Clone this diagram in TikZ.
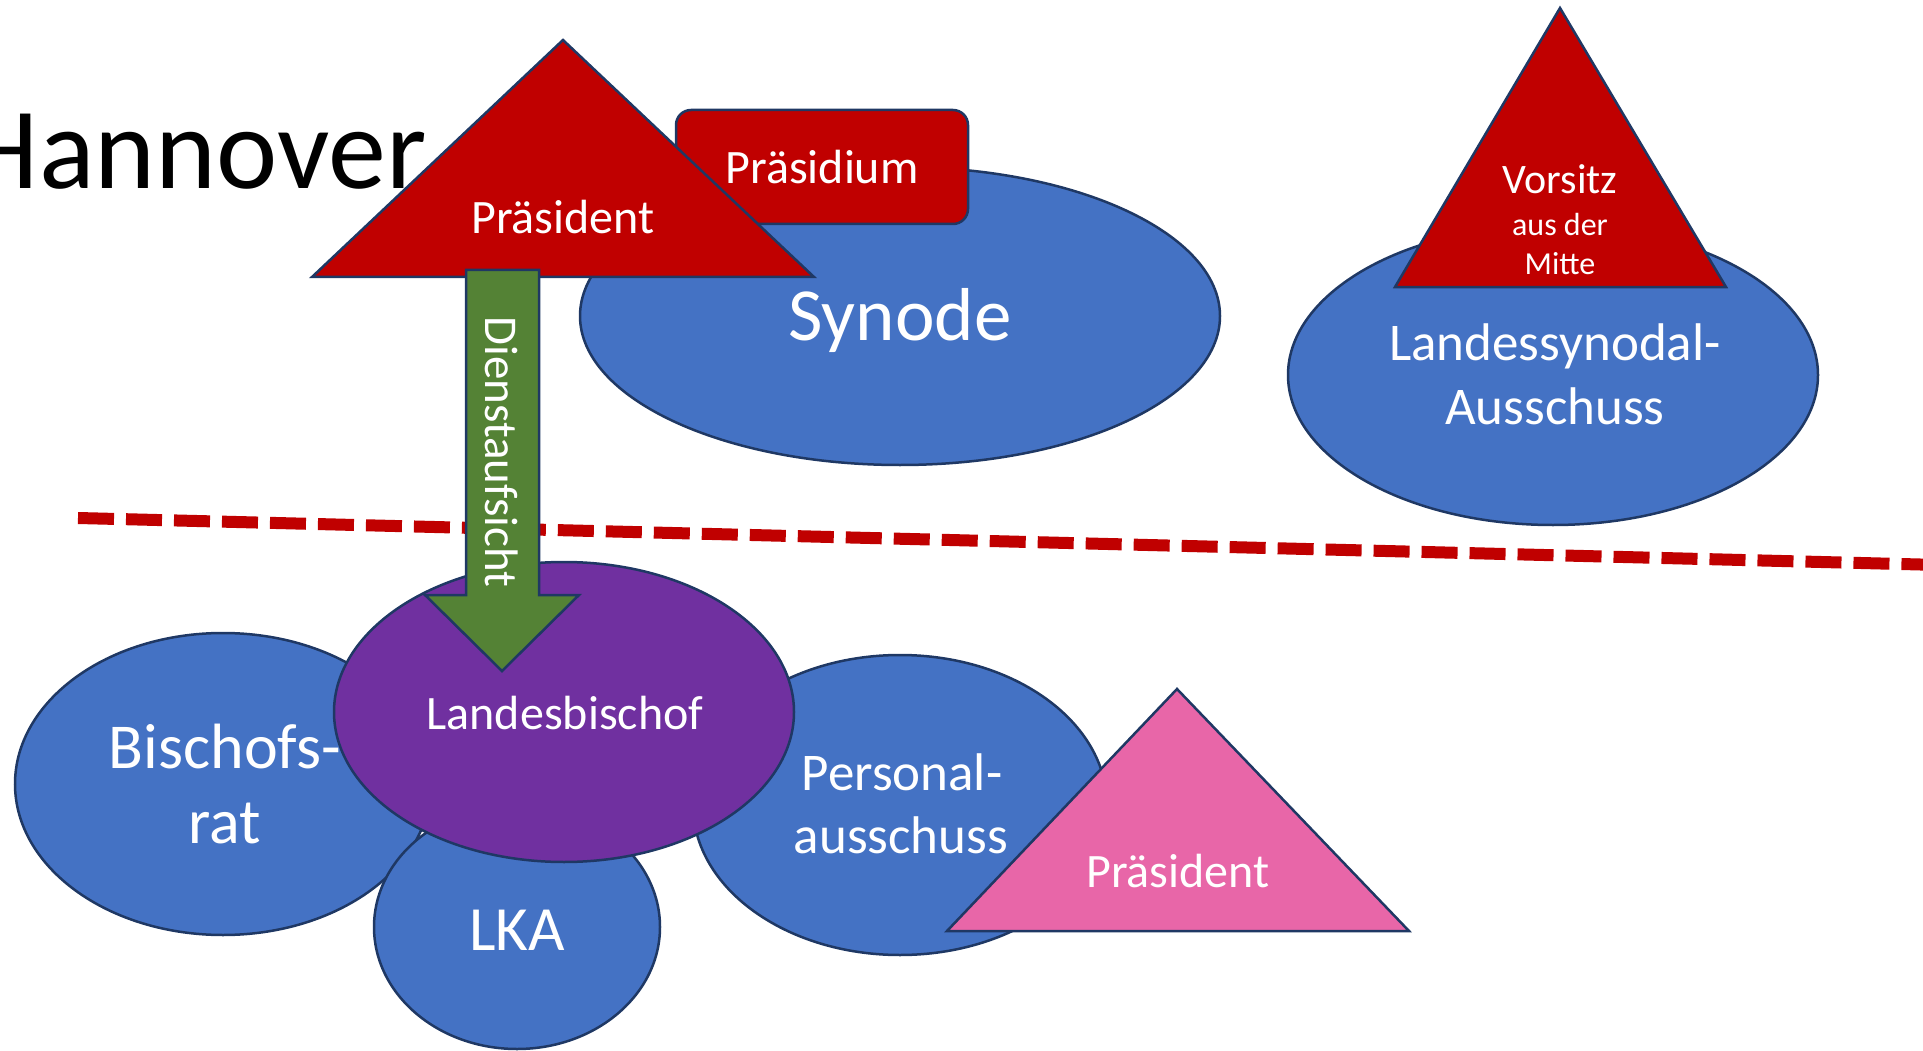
\documentclass[tikz,border=0pt]{standalone}
\usepackage{fontspec}
\setmainfont{Carlito}
\definecolor{bodyblue}{HTML}{4472C4}
\definecolor{chairred}{HTML}{C00000}
\definecolor{bishoppurple}{HTML}{7030A0}
\definecolor{supervgreen}{HTML}{548235}
\definecolor{presipink}{HTML}{E866A8}
\definecolor{edgenavy}{HTML}{1F3864}
\newcommand{\setfs}[1]{\fontsize{#1}{#1}\selectfont}
\tikzset{
  shapeline/.style={draw=edgenavy, line width=2.5pt, line join=miter},
  bluebody/.style={shapeline, fill=bodyblue},
  redbody/.style={shapeline, fill=chairred},
  lbl/.style={text=white, inner sep=0pt, anchor=base},
  borderdash/.style={draw=chairred, line width=12pt, dash pattern=on 36pt off 12pt}
}
\begin{document}
\begin{tikzpicture}[x=1pt,y=-1pt]
\useasboundingbox (0,0) rectangle (1923,1051);

% title
\node[inner sep=0pt, anchor=base east, font=\setfs{116}] (title) at (427,189) {Hannover};

% upper part: synod bodies
\path[bluebody] (900,316) ellipse [x radius=320, y radius=149];
\path[redbody, rounded corners=15pt] (676,110) rectangle (968,224);
\path[redbody] (312,277) -- (563,40) -- (814,277) -- cycle;
\path[bluebody] (1553,375) ellipse [x radius=265, y radius=150];
\path[redbody] (1395,287) -- (1560,8) -- (1726,287) -- cycle;

\node[lbl, font=\setfs{75}] (synode) at (900,340) {Synode};
\node[lbl, font=\setfs{48}] (praesidium) at (822,184) {Präsidium};
\node[lbl, font=\setfs{48}] (praesA) at (563,234) {Präsident};
\node[lbl, font=\setfs{53}] (lsaA) at (1555,360) {Landessynodal-};
\node[lbl, font=\setfs{53}] (lsaB) at (1555,424) {Ausschuss};
\node[lbl, font=\setfs{42}] (vorsA) at (1560,194) {Vorsitz};
\node[lbl, font=\setfs{32}] (vorsB) at (1560,236) {aus der};
\node[lbl, font=\setfs{32}] (vorsC) at (1560,274) {Mitte};

% separating line
\coordinate (sepL) at (78,518);
\coordinate (sepR) at (1960,565.5);
\draw[borderdash] (sepL) -- (sepR);

% lower part: church administration
\path[bluebody] (223,784) ellipse [x radius=208, y radius=151];
\path[bluebody] (517,927) ellipse [x radius=143, y radius=122];
\path[bluebody] (900,805) ellipse [x radius=207, y radius=150];
\node[lbl, font=\setfs{64}] (brA) at (225,768) {Bischofs-};
\node[lbl, font=\setfs{64}] (brB) at (225,843) {rat};
\path[shapeline, fill=bishoppurple] (564,712) ellipse [x radius=230, y radius=150];
\path[shapeline, fill=presipink] (947,931) -- (1177,689) -- (1409,931) -- cycle;

\node[lbl, font=\setfs{63}] (lka) at (517,950) {LKA};
\node[lbl, font=\setfs{48}] (bischof) at (565,729) {Landesbischof};
\node[lbl, font=\setfs{53}] (paA) at (902,790) {Personal-};
\node[lbl, font=\setfs{53}] (paB) at (901,853) {ausschuss};
\node[lbl, font=\setfs{48}] (praesB) at (1178,887) {Präsident};

% supervision arrow
\path[shapeline, fill=supervgreen] (466,270) -- (539,270) -- (539,595) -- (579,595)
  -- (502,671) -- (425,595) -- (466,595) -- cycle;
\node[text=white, inner sep=0pt, rotate=-90, font=\setfs{47}] (aufsicht) at (502,452) {Dienstaufsicht};
\end{tikzpicture}
\end{document}
